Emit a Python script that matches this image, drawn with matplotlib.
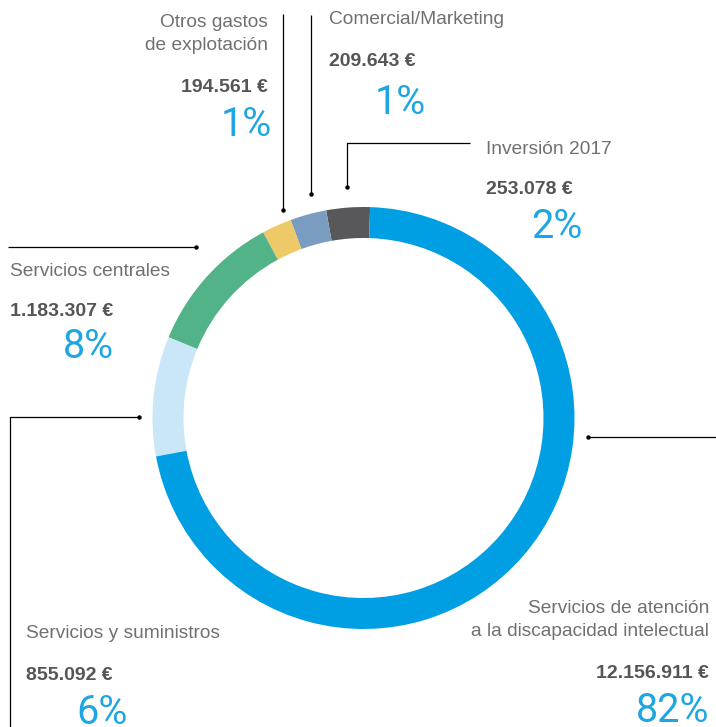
import matplotlib.pyplot as plt

W, H = 716, 727

# ring order: counter-clockwise starting at the top
categories = ['Inversión 2017', 'Comercial/Marketing', 'Otros gastos\nde explotación',
              'Servicios centrales', 'Servicios y suministros',
              'Servicios de atención\na la discapacidad intelectual']
amounts = ['253.078 €', '209.643 €', '194.561 €', '1.183.307 €', '855.092 €', '12.156.911 €']
percents = ['2%', '1%', '1%', '8%', '6%', '82%']
# wedge sizes as drawn in the picture (degrees of the ring)
ring_deg = [12.0, 10.0, 8.2, 39.1, 33.0, 257.7]
colors = ['#58585a', '#7a9cc0', '#edc967', '#52b388', '#c9e7f7', '#009fe3']

label_c = '#707070'
value_c = '#555555'
pct_c = '#1ea5e3'
pct_font = ['Roboto', 'Liberation Sans', 'DejaVu Sans']

plt.rcParams['font.family'] = ['Liberation Sans', 'DejaVu Sans']

fig = plt.figure(figsize=(W / 100, H / 100), dpi=100)
ax = fig.add_axes([0, 0, 1, 1])

ax.pie(ring_deg, colors=colors, startangle=88.2, counterclock=True,
       radius=211, center=(363.5, H - 418),
       wedgeprops=dict(width=31, edgecolor='none'))

ax.set_xlim(0, W)
ax.set_ylim(0, H)
ax.set_aspect('equal')
ax.set_axis_off()


def y(v):
    return H - v


def leader(xs, ys):
    ys = [y(v) for v in ys]
    ax.plot(xs, ys, color='black', lw=0.9, solid_capstyle='butt')
    ax.plot(xs[-1], ys[-1], 'o', color='black', ms=2.2)


leader([283, 283], [14, 210])
leader([311, 311], [15, 194])
leader([470, 347, 347], [143, 143, 187])
leader([8, 196], [247, 247])
leader([10, 10, 139], [727, 417, 417])
leader([716, 588], [437, 437])

# (x, y of label, y of amount, y of percent, align, x of percent)
spots = [
    (486, 150, 190, 226, 'left', 557, 'center'),
    (329, 20, 61, 102, 'left', 400, 'center'),
    (268, 34, 87, 125, 'right', 272, 'right'),
    (10, 271, 311, 346, 'left', 88, 'center'),
    (26, 633, 675, 712, 'left', 102, 'center'),
    (709, 620, 673, 711, 'right', 709, 'right'),
]

for cat, amt, pct, s in zip(categories, amounts, percents, spots):
    x0, yl, ya, yp, ha, xp, hap = s
    ax.text(x0, y(yl), cat, ha=ha, va='center', fontsize=13.8, color=label_c,
            linespacing=1.5)
    ax.text(x0, y(ya), amt, ha=ha, va='center', fontsize=14, fontweight='bold',
            color=value_c)
    ax.text(xp, y(yp), pct, ha=hap, va='center', fontsize=28.5, color=pct_c,
            family=pct_font)

fig.savefig('out.png', dpi=100)
